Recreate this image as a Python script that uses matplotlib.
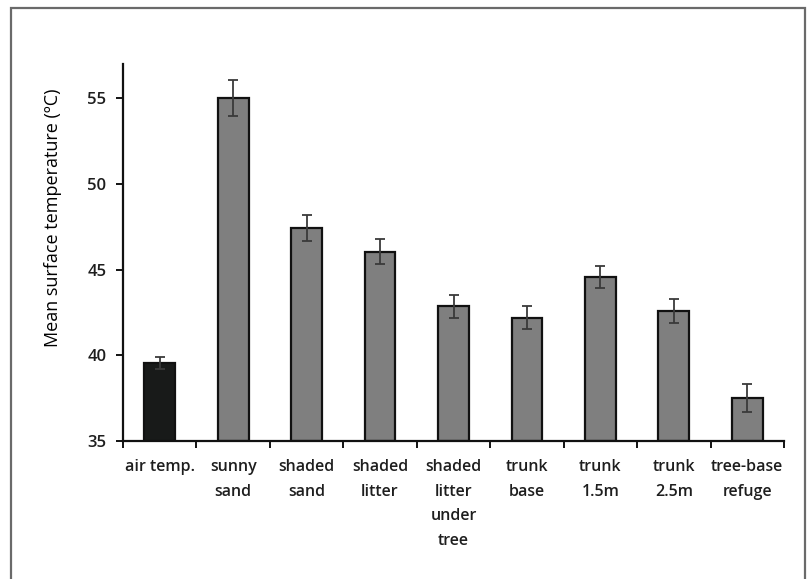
import matplotlib
matplotlib.use("Agg")
import matplotlib.pyplot as plt
from matplotlib.patches import Rectangle
import numpy as np

categories = ["air temp.", "sunny\nsand", "shaded\nsand", "shaded\nlitter",
              "shaded\nlitter\nunder\ntree", "trunk\nbase", "trunk\n1.5m",
              "trunk\n2.5m", "tree-base\nrefuge"]
means = [39.55, 55.0, 47.42, 46.03, 42.85, 42.2, 44.57, 42.57, 37.5]
errors = [0.33, 1.05, 0.74, 0.73, 0.68, 0.66, 0.62, 0.7, 0.8]
colors = ["#181a19"] + ["#7f7f7f"] * 8
yticks = [35, 40, 45, 50, 55]

plt.rcParams['font.family'] = ['Open Sans', 'DejaVu Sans']
plt.rcParams['font.weight'] = 'semibold'
plt.rcParams['text.color'] = '#1e1e1e'

fig = plt.figure(figsize=(8.11, 5.79), dpi=100)
ax = fig.add_axes([123/811, 1-441/579, (784-123)/811, (441-64)/579])

x = np.arange(len(categories))
ax.bar(x, [m - 35 for m in means], bottom=35, width=0.42, color=colors,
       edgecolor="#111111", linewidth=1.6, zorder=2)
ax.errorbar(x, means, yerr=errors, fmt="none", ecolor="#3a3a3a",
            elinewidth=1.3, capsize=3.5, capthick=1.3, zorder=3)

ax.set_xlim(-0.5, len(categories) - 0.5)
ax.set_ylim(35, 57)
ax.set_yticks(yticks)
ax.set_yticklabels([str(t) for t in yticks], fontsize=12, color='#1e1e1e')
ax.set_xticks(x)
ax.set_xticklabels(categories, fontsize=11.5, linespacing=1.72, color='#1e1e1e')
ax.set_xticks(np.arange(-0.5, len(categories), 1), minor=True)
ax.tick_params(axis='x', which='major', length=0, pad=13)
ax.tick_params(axis='x', which='minor', length=5, width=1.3, direction='out')
ax.tick_params(axis='y', which='major', length=5, width=1.3, direction='out', pad=7)

for s in ["top", "right"]:
    ax.spines[s].set_visible(False)
for s in ["left", "bottom"]:
    ax.spines[s].set_linewidth(1.6)
    ax.spines[s].set_color("#111111")

ax.set_ylabel("Mean surface temperature (ºC)", fontsize=13)
ax.yaxis.set_label_coords((62-123)/661, (441-218)/377)

# outer frame
fig.patches.append(Rectangle((10.5/811, -0.05), (805-10.5)/811, 1.05 - 8/579,
                             transform=fig.transFigure, fill=False,
                             edgecolor="#6a6a6a", linewidth=1.6))

fig.savefig("out.png", dpi=100)
